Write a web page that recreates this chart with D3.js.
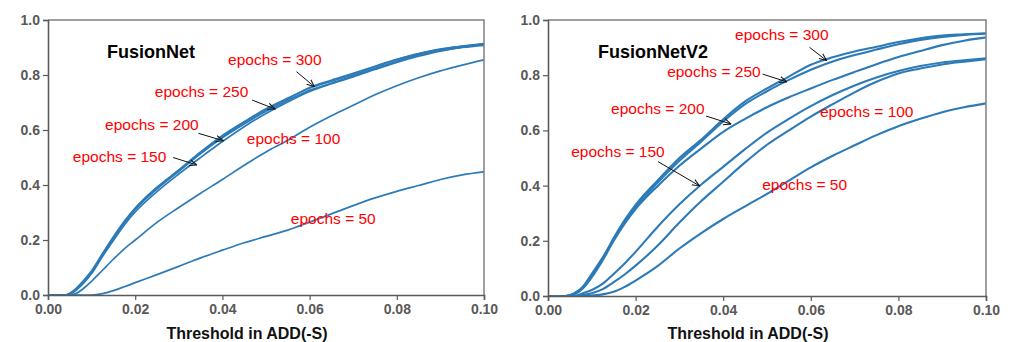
<!DOCTYPE html>
<html>
<head>
<meta charset="utf-8">
<script src="https://cdn.jsdelivr.net/npm/d3@7"></script>
<style>
  body { margin: 0; background: #fff; }
  svg { display: block; }
</style>
</head>
<body>
<script>
// Chart size
const width = 1010;
const height = 342;

// Shared threshold grid (ADD(-S))
var thresholds = [0, 0.004, 0.006, 0.008, 0.01, 0.0125, 0.015, 0.0175, 0.02, 0.025, 0.03, 0.035, 0.04,
                  0.045, 0.05, 0.055, 0.06, 0.065, 0.07, 0.075, 0.08, 0.085, 0.09, 0.095, 0.1];

// FusionNet accuracy curves
var fn50  = [0, 0, 0, 0, 0, 0.005, 0.016, 0.03, 0.045, 0.074, 0.104, 0.135, 0.163, 0.19, 0.213, 0.236, 0.265, 0.295, 0.325, 0.353, 0.377, 0.398, 0.42, 0.437, 0.448];
var fn100 = [0, 0, 0.003, 0.022, 0.05, 0.09, 0.13, 0.168, 0.2, 0.264, 0.318, 0.37, 0.42, 0.472, 0.52, 0.563, 0.61, 0.652, 0.69, 0.728, 0.761, 0.79, 0.815, 0.836, 0.855];
var fn150 = [0, 0, 0.012, 0.04, 0.078, 0.14, 0.198, 0.255, 0.302, 0.376, 0.44, 0.5, 0.558, 0.612, 0.66, 0.702, 0.74, 0.768, 0.793, 0.82, 0.846, 0.868, 0.887, 0.9, 0.908];
var fn200 = [0, 0, 0.016, 0.046, 0.084, 0.147, 0.207, 0.264, 0.312, 0.387, 0.452, 0.515, 0.572, 0.622, 0.668, 0.707, 0.744, 0.77, 0.796, 0.824, 0.85, 0.872, 0.889, 0.901, 0.911];
var fn250 = [0, 0.001, 0.018, 0.05, 0.088, 0.151, 0.212, 0.268, 0.316, 0.392, 0.455, 0.52, 0.58, 0.63, 0.677, 0.716, 0.752, 0.777, 0.801, 0.83, 0.856, 0.877, 0.894, 0.904, 0.912];
var fn300 = [0, 0, 0.014, 0.044, 0.083, 0.146, 0.206, 0.262, 0.311, 0.386, 0.45, 0.514, 0.575, 0.628, 0.674, 0.713, 0.754, 0.781, 0.806, 0.832, 0.857, 0.878, 0.893, 0.905, 0.914];

// FusionNetV2 accuracy curves
var v2_50  = [0, 0, 0, 0, 0.002, 0.006, 0.015, 0.033, 0.056, 0.108, 0.172, 0.228, 0.279, 0.325, 0.37, 0.418, 0.466, 0.508, 0.546, 0.583, 0.615, 0.642, 0.666, 0.684, 0.698];
var v2_100 = [0, 0, 0, 0.004, 0.01, 0.025, 0.05, 0.078, 0.11, 0.182, 0.266, 0.344, 0.414, 0.484, 0.548, 0.6, 0.65, 0.695, 0.738, 0.776, 0.806, 0.824, 0.839, 0.849, 0.858];
var v2_150 = [0, 0, 0, 0.01, 0.022, 0.045, 0.08, 0.118, 0.16, 0.25, 0.332, 0.404, 0.468, 0.532, 0.592, 0.642, 0.688, 0.728, 0.763, 0.792, 0.815, 0.833, 0.846, 0.854, 0.861];
var v2_200 = [0, 0, 0.006, 0.028, 0.068, 0.13, 0.2, 0.262, 0.315, 0.398, 0.472, 0.535, 0.595, 0.642, 0.684, 0.72, 0.752, 0.783, 0.812, 0.84, 0.866, 0.888, 0.909, 0.925, 0.937];
var v2_250 = [0, 0, 0.01, 0.035, 0.08, 0.14, 0.205, 0.268, 0.322, 0.41, 0.49, 0.56, 0.632, 0.695, 0.742, 0.783, 0.82, 0.85, 0.873, 0.893, 0.912, 0.928, 0.939, 0.946, 0.95];
var v2_300 = [0, 0, 0.008, 0.03, 0.072, 0.135, 0.21, 0.275, 0.33, 0.418, 0.5, 0.567, 0.64, 0.705, 0.752, 0.795, 0.838, 0.865, 0.886, 0.903, 0.92, 0.934, 0.944, 0.948, 0.952];

// Tick labels
var xTicks = [0, 0.02, 0.04, 0.06, 0.08, 0.1];
var yTicks = [0, 0.2, 0.4, 0.6, 0.8, 1.0];

// Annotation labels: [text, x, y] in data units
var fnLabels = [["epochs = 300", 0.0413, 0.836], ["epochs = 250", 0.0245, 0.72], ["epochs = 200", 0.0131, 0.6],
                ["epochs = 150", 0.0057, 0.484], ["epochs = 100", 0.0456, 0.549], ["epochs = 50", 0.0557, 0.258]];
var v2Labels = [["epochs = 300", 0.0427, 0.928], ["epochs = 250", 0.0272, 0.793], ["epochs = 200", 0.0144, 0.659],
                ["epochs = 150", 0.0053, 0.504], ["epochs = 100", 0.0621, 0.649], ["epochs = 50", 0.0489, 0.384]];

// Annotation arrows: [x1, y1, x2, y2] in data units
var fnArrows = [[0.0570, 0.812, 0.0611, 0.7575], [0.0468, 0.709, 0.0521, 0.676],
                [0.0345, 0.588, 0.0402, 0.561], [0.0287, 0.50, 0.0341, 0.473]];
var v2Arrows = [[0.0597, 0.901, 0.0636, 0.853], [0.049, 0.804, 0.0545, 0.776],
                [0.0361, 0.652, 0.0418, 0.623], [0.0251, 0.487, 0.0346, 0.399]];

var svg = d3.select("body")
    .append("svg")
    .attr("width", width)
    .attr("height", height);

svg.append("defs").append("marker")
    .attr("id", "arrow")
    .attr("viewBox", "0 0 8 8")
    .attr("refX", 7.5)
    .attr("refY", 4)
    .attr("markerWidth", 8)
    .attr("markerHeight", 8)
    .attr("markerUnits", "userSpaceOnUse")
    .attr("orient", "auto")
    .append("path")
    .attr("d", "M0,0.8 L7.5,4 L0,7.2")
    .attr("fill", "none")
    .attr("stroke", "#111")
    .attr("stroke-width", 1);

function drawPanel(p) {
    var x = d3.scaleLinear().domain([0, 0.1]).range([p.left, p.right]);
    var y = d3.scaleLinear().domain([0, 1]).range([p.bottom, p.top]);
    var g = svg.append("g");

    // curves
    var line = d3.line()
        .x(function(d, i) { return x(thresholds[i]); })
        .y(function(d) { return y(d); })
        .curve(d3.curveMonotoneX);
    p.series.forEach(function(s) {
        g.append("path")
            .datum(s)
            .attr("d", line)
            .attr("fill", "none")
            .attr("stroke", "#2c7bb8")
            .attr("stroke-width", p.lineWidth);
    });

    // frame (top/right)
    g.append("path")
        .attr("d", `M${p.left},${p.top}H${p.right}V${p.bottom}`)
        .attr("fill", "none")
        .attr("stroke", "#808080")
        .attr("stroke-width", 1.5);

    // axes
    var xAxis = d3.axisBottom(x).tickValues(xTicks).tickFormat(d3.format(".2f")).tickSize(5).tickPadding(4);
    var yAxis = d3.axisLeft(y).tickValues(yTicks).tickFormat(d3.format(".1f")).tickSize(5).tickPadding(3);
    [g.append("g").attr("transform", `translate(0,${p.bottom})`).call(xAxis),
     g.append("g").attr("transform", `translate(${p.left},0)`).call(yAxis)].forEach(function(a) {
        a.select(".domain").attr("stroke", "#5a5a5a").attr("stroke-width", 1.6);
        a.selectAll(".tick line").attr("stroke", "#5a5a5a").attr("stroke-width", 1.2);
        a.selectAll(".tick text")
            .attr("fill", "#595959")
            .style("font-family", "'Liberation Sans', Arial, sans-serif")
            .style("font-size", "14px")
            .style("font-weight", "bold");
    });

    // axis title
    g.append("text")
        .attr("x", (p.left + p.right) / 2 - 19)
        .attr("y", 339)
        .attr("text-anchor", "middle")
        .style("font-family", "'Liberation Sans', Arial, sans-serif")
        .style("font-size", "16px")
        .style("font-weight", "bold")
        .attr("fill", "#111")
        .text("Threshold in ADD(-S)");

    // panel title
    g.append("text")
        .attr("x", p.titleX)
        .attr("y", 58)
        .style("font-family", "'Liberation Sans', Arial, sans-serif")
        .style("font-size", "18px")
        .style("font-weight", "bold")
        .attr("fill", "#000")
        .text(p.title);

    // annotations
    p.labels.forEach(function(l) {
        g.append("text")
            .attr("x", x(l[1]))
            .attr("y", y(l[2]))
            .style("font-family", "'Liberation Sans', Arial, sans-serif")
            .style("font-size", "15.5px")
            .attr("fill", "#ff0000")
            .text(l[0]);
    });
    p.arrows.forEach(function(a) {
        g.append("line")
            .attr("x1", x(a[0])).attr("y1", y(a[1]))
            .attr("x2", x(a[2])).attr("y2", y(a[3]))
            .attr("stroke", "#111")
            .attr("stroke-width", 1)
            .attr("marker-end", "url(#arrow)");
    });
}

drawPanel({left: 48, right: 484, top: 20, bottom: 295, lineWidth: 1.7,
           series: [fn50, fn100, fn150, fn200, fn250, fn300],
           labels: fnLabels, arrows: fnArrows, title: "FusionNet", titleX: 107});
drawPanel({left: 548, right: 986, top: 20, bottom: 296, lineWidth: 2.1,
           series: [v2_50, v2_100, v2_150, v2_200, v2_250, v2_300],
           labels: v2Labels, arrows: v2Arrows, title: "FusionNetV2", titleX: 598});
</script>
</body>
</html>
